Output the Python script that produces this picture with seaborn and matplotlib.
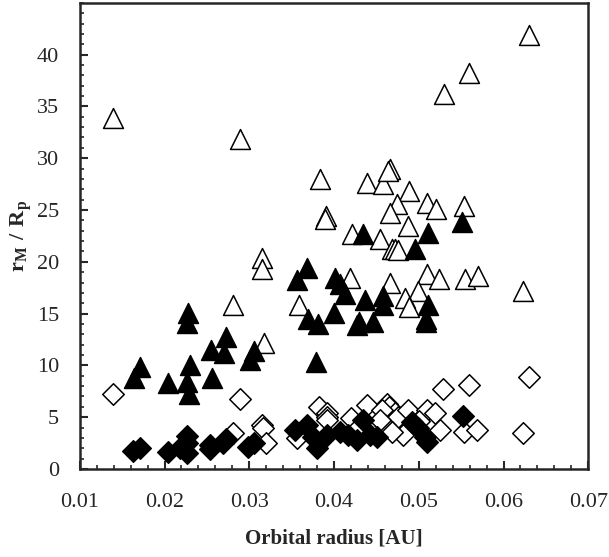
import matplotlib
matplotlib.use('Agg')
import matplotlib.pyplot as plt
from matplotlib.ticker import MultipleLocator
import seaborn as sns
import pandas as pd

# open triangles
open_tri_x = [0.0139, 0.0289, 0.0384, 0.0391, 0.0389, 0.0421, 0.0630, 0.0559, 0.0530,
              0.0439, 0.0458, 0.0466, 0.0464, 0.0488, 0.0510, 0.0520, 0.0553, 0.0474,
              0.0466, 0.0487, 0.0454, 0.0468, 0.0472, 0.0476, 0.0419, 0.0466, 0.0510,
              0.0524, 0.0555, 0.0570, 0.0499, 0.0484, 0.0488, 0.0623, 0.0281, 0.0317,
              0.0315, 0.0315, 0.0359]
open_tri_y = [33.9, 31.9, 28.0, 24.4, 24.1, 22.7, 41.9, 38.2, 36.2,
              27.6, 27.5, 29.0, 28.8, 26.8, 25.7, 25.1, 25.4, 25.6,
              24.7, 23.5, 22.2, 21.2, 21.2, 21.1, 18.4, 18.0, 18.8,
              18.3, 18.3, 18.6, 17.2, 16.5, 15.6, 17.2, 15.8, 12.2,
              20.4, 19.3, 15.8]

# filled triangles
fill_tri_x = [0.0171, 0.0164, 0.0204, 0.0228, 0.0226, 0.0230, 0.0226, 0.0229, 0.0256,
              0.0255, 0.0272, 0.0270, 0.0305, 0.0301, 0.0368, 0.0356, 0.0401, 0.0407,
              0.0413, 0.0400, 0.0369, 0.0381, 0.0379, 0.0427, 0.0430, 0.0446, 0.0436,
              0.0458, 0.0458, 0.0511, 0.0509, 0.0508, 0.0434, 0.0511, 0.0551, 0.0496]
fill_tri_y = [9.8, 8.8, 8.3, 15.1, 14.1, 10.0, 8.4, 7.2, 8.8,
              11.5, 12.7, 11.2, 11.4, 10.5, 19.4, 18.2, 18.4, 17.9,
              16.9, 15.1, 14.5, 14.0, 10.3, 13.9, 14.2, 14.2, 16.3,
              16.7, 15.8, 15.8, 14.2, 14.5, 22.7, 22.8, 23.8, 21.2]

# open diamonds
open_dia_x = [0.0139, 0.0289, 0.0315, 0.0316, 0.0281, 0.0320, 0.0529, 0.0559, 0.0553,
              0.0569, 0.0382, 0.0392, 0.0392, 0.0392, 0.0420, 0.0439, 0.0462, 0.0465,
              0.0472, 0.0475, 0.0457, 0.0487, 0.0510, 0.0519, 0.0525, 0.0481, 0.0460,
              0.0454, 0.0428, 0.0623, 0.0630, 0.0356, 0.0500, 0.0468]
open_dia_y = [7.2, 6.8, 4.2, 4.0, 3.5, 2.5, 7.7, 8.1, 3.6,
              3.8, 6.0, 5.4, 5.0, 4.7, 4.9, 6.2, 6.3, 6.0,
              5.4, 5.0, 5.7, 5.7, 5.7, 5.4, 3.8, 3.3, 4.2,
              4.7, 4.0, 3.5, 8.9, 3.0, 4.6, 3.6]

# filled diamonds
fill_dia_x = [0.0163, 0.0171, 0.0204, 0.0226, 0.0226, 0.0226, 0.0218, 0.0254, 0.0254,
              0.0269, 0.0273, 0.0298, 0.0305, 0.0354, 0.0368, 0.0380, 0.0375, 0.0392,
              0.0407, 0.0427, 0.0434, 0.0442, 0.0451, 0.0492, 0.0499, 0.0507, 0.0510,
              0.0416, 0.0552]
fill_dia_y = [1.7, 2.0, 1.6, 3.2, 2.5, 1.5, 2.0, 2.3, 1.9,
              2.5, 2.9, 2.1, 2.5, 3.75, 4.2, 2.0, 3.1, 3.3,
              3.6, 2.8, 4.7, 3.3, 3.1, 4.5, 4.0, 3.1, 2.6,
              3.3, 5.1]

x_ticks = [0.01, 0.02, 0.03, 0.04, 0.05, 0.06, 0.07]
x_ticklabels = ['0.01', '0.02', '0.03', '0.04', '0.05', '0.06', '0.07']
y_ticks = [0, 5, 10, 15, 20, 25, 30, 35, 40]

sns.set_style('ticks')
plt.rcParams['font.family'] = ['Liberation Serif', 'DejaVu Serif']
plt.rcParams['mathtext.fontset'] = 'custom'
plt.rcParams['mathtext.rm'] = 'Liberation Serif'
plt.rcParams['mathtext.bf'] = 'Liberation Serif:bold'

fig = plt.figure(figsize=(6.09, 5.57), dpi=100)
ax = fig.add_axes([0.131, 0.158, 0.835, 0.837])

series = [
    (open_tri_x, open_tri_y, '^', 'white', 205),
    (open_dia_x, open_dia_y, 'D', 'white', 120),
    (fill_tri_x, fill_tri_y, '^', 'black', 205),
    (fill_dia_x, fill_dia_y, 'D', 'black', 120),
]
for xs, ys, mk, fc, sz in series:
    df = pd.DataFrame({'x': xs, 'y': ys})
    sns.scatterplot(data=df, x='x', y='y', marker=mk, s=sz, color=fc,
                    edgecolor='black', linewidth=1.1, ax=ax, legend=False)

ax.set_xlim(0.01, 0.07)
ax.set_ylim(0, 45)
ax.set_xticks(x_ticks)
ax.set_xticklabels(x_ticklabels)
ax.set_yticks(y_ticks)
ax.xaxis.set_minor_locator(MultipleLocator(0.002))
ax.yaxis.set_minor_locator(MultipleLocator(1))
ax.tick_params(which='major', direction='in', length=6, width=1.5, labelsize=16)
ax.tick_params(which='minor', direction='in', length=3, width=1.2)
ax.tick_params(axis='x', pad=17)
ax.tick_params(axis='y', pad=15)
for sp in ax.spines.values():
    sp.set_linewidth(1.8)

ax.set_xlabel('Orbital radius [AU]', fontsize=15, fontweight='bold', labelpad=12)
ax.set_ylabel(r'$\mathbf{r_M\ /\ R_p}$', fontsize=16, labelpad=2)

fig.savefig('out.png', dpi=100)
